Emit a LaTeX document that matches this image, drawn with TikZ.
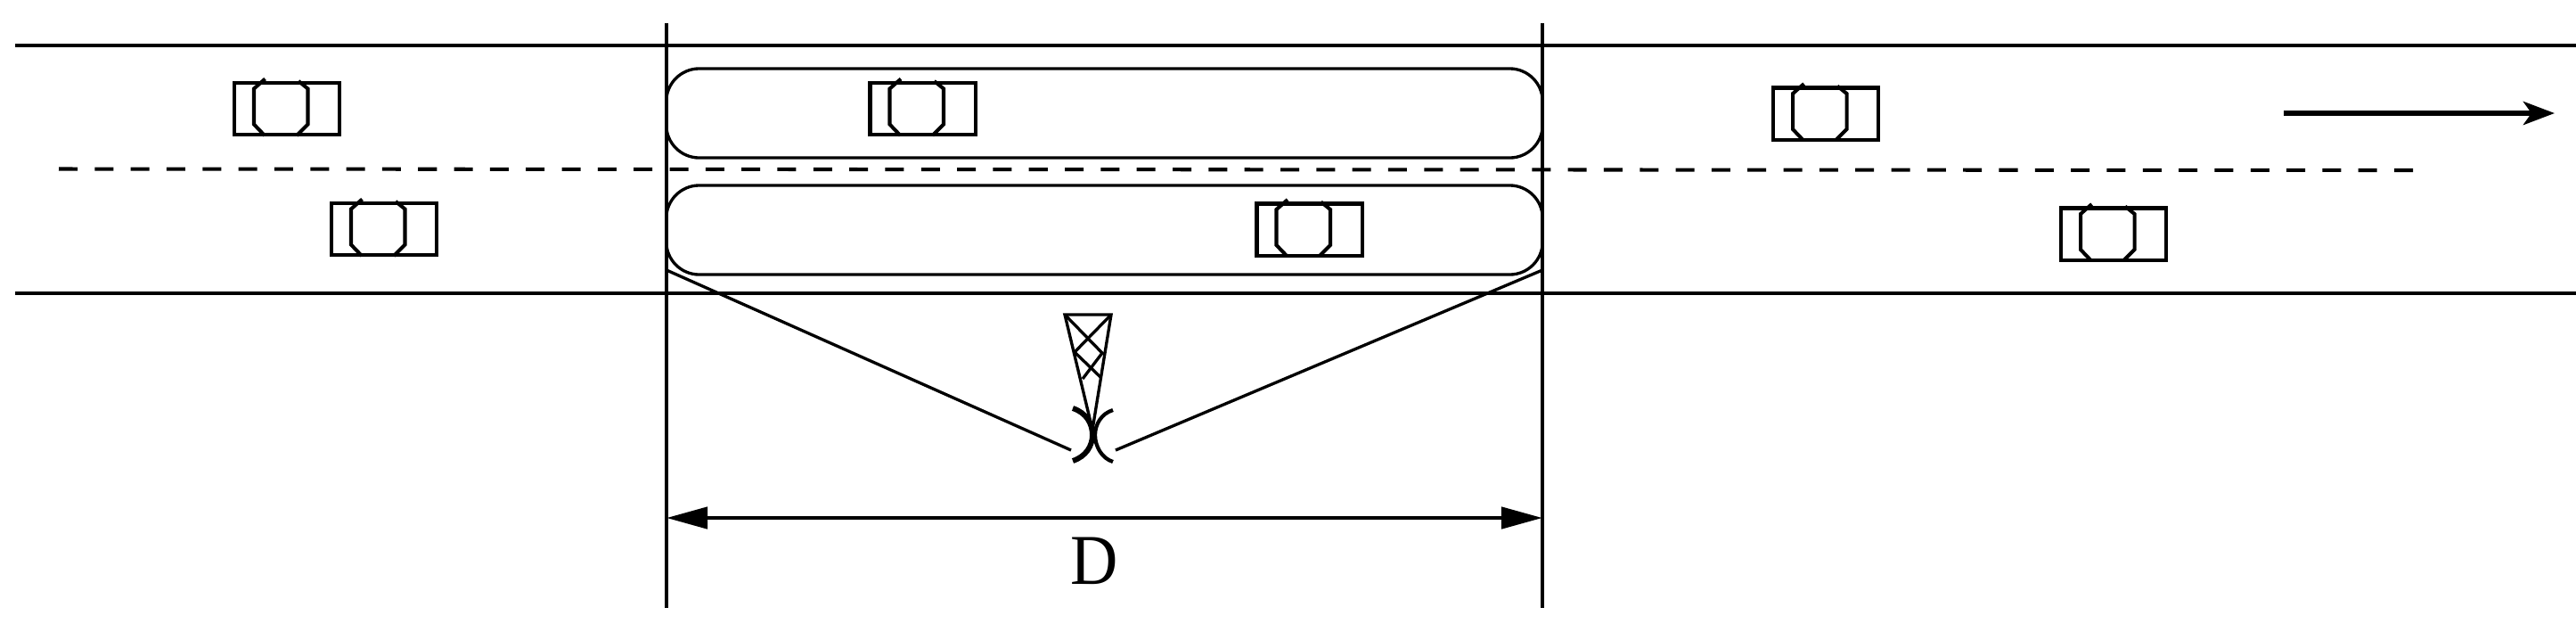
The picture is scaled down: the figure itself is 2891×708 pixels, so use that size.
\documentclass[tikz,border=0pt]{standalone}
\usepackage{fontspec}
\setmainfont{Liberation Serif}
\usetikzlibrary{arrows.meta}
\tikzset{
car body/.style={draw, rectangle, line width=1.15pt, inner sep=0, outer sep=0, minimum width=1.18cm, minimum height=.58cm},
car roof/.style={line width=1.15pt},
road line/.style={line width=1.05pt},
toll zone/.style={draw, rectangle, rounded corners=.37cm, inner sep=0, outer sep=0, minimum width=9.83cm, minimum height=1cm},
lane dash/.style={line width=1.15pt, dash pattern=on .21cm off .193cm},
span arrow/.style={line width=1.3pt,{Triangle[length=.46cm,width=.24cm]}-{Triangle[length=.46cm,width=.24cm]}},
}
\begin{document}
\begin{tikzpicture}[x=.01cm,y=-.01cm,line width=.95pt]
        \useasboundingbox (0,0) rectangle (2891,708);
        % road edges and zone limits
        \coordinate (roadTL) at (17,51);
        \coordinate (roadTR) at (2891,51);
        \coordinate (roadBL) at (17,329);
        \coordinate (roadBR) at (2891,329);
        \coordinate (laneL) at (66,189.5);
        \coordinate (laneR) at (2709,191);
        \coordinate (limitLT) at (748,26);
        \coordinate (limitLB) at (748,682);
        \coordinate (limitRT) at (1731,26);
        \coordinate (limitRB) at (1731,682);
        \draw[road line] (roadTL) -- (roadTR);
        \draw[road line] (roadBL) -- (roadBR);
        \draw[lane dash] (laneL) -- (laneR);
        \draw (limitLT) -- (limitLB);
        \draw (limitRT) -- (limitRB);
        \node[toll zone] (zoneA) at (1239.5,127) {};
        \node[toll zone] (zoneB) at (1239.5,258) {};
        \foreach \n/\x/\y in {1/322/122,2/431/257,3/1035.5/122,4/1469.5/257.5,5/2049/127.5,6/2372/262.5}  {
            \node[car body] (car\n) at (\x,\y) {};
            \draw[car roof,shift={(car\n.center)}] (-25,30) -- (-37,17.5) -- (-37,-22.5) -- (-24.5,-33.5);
            \draw[car roof,shift={(car\n.center)}] (13,-31) -- (23.5,-22.5) -- (23.5,17.5) -- (11,30);
        }
        % flow direction
        \coordinate (flowS) at (2563,127);
        \coordinate (flowE) at (2867,127);
        \draw[line width=1.7pt,-{Stealth[length=.35cm,width=.26cm,inset=.09cm]}] (flowS) -- (flowE);
        % tower
        \coordinate (towerL) at (1195,353);
        \coordinate (towerR) at (1247,353);
        \coordinate (towerA) at (1226,482);
        \coordinate (braceL) at (1206,395);
        \coordinate (braceR) at (1237,396);
        \coordinate (braceLL) at (1215,425);
        \coordinate (braceRR) at (1236,424);
        \draw (towerA) -- (towerL) -- (towerR) -- cycle;
        \draw (towerL) -- (braceR) -- (braceLL);
        \draw (towerR) -- (braceL) -- (braceRR);
        % antenna
        \coordinate (dishLT) at (1204,458);
        \coordinate (dishLB) at (1204,517);
        \coordinate (dishRT) at (1249,460);
        \coordinate (dishRB) at (1249,518);
        \draw[line width=1.7pt] (dishLT) .. controls (1219,463) and (1226,475) .. (1226,488) .. controls (1226,500) and (1219,512) .. (dishLB);
        \draw[line width=1.2pt] (dishRT) .. controls (1236,464) and (1229,476) .. (1229,488) .. controls (1229,500) and (1236,514) .. (dishRB);
        % coverage
        \coordinate (beamLS) at (1202,505);
        \coordinate (beamLE) at (748,303);
        \coordinate (beamRS) at (1252,505);
        \coordinate (beamRE) at (1731,303);
        \draw (beamLS) -- (beamLE);
        \draw (beamRS) -- (beamRE);
        % span
        \coordinate (spanL) at (748,581);
        \coordinate (spanR) at (1731,581);
        \draw[span arrow] (spanL) -- (spanR);
        \node[inner sep=0,xscale=.92] (spanlabel) at (1228,629.5) {\fontsize{22.8}{24}\selectfont D};
\end{tikzpicture}
\end{document}
